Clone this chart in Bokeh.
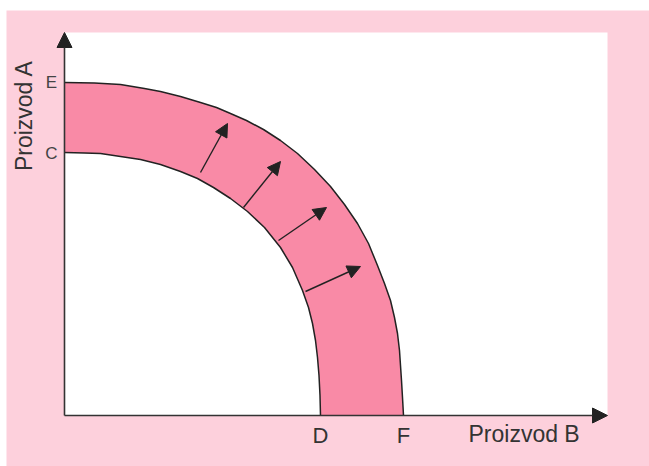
import math
from bokeh.plotting import figure
from bokeh.models import Arrow, NormalHead, Label, ColumnDataSource, Range1d
from bokeh.embed import file_html
from bokeh.resources import INLINE

# --- data (frame units) ---
outer_x = [0, 30, 56, 80, 96, 116, 136, 152, 166, 182, 199, 216, 233, 250, 266, 280, 293,
           304, 313, 320, 326, 330, 333, 335, 336, 337, 338, 339]
outer_y = [333, 332.5, 331, 327, 324, 319, 313, 308, 302, 295, 286, 275, 262, 246, 229, 211, 192,
           172, 150, 132, 115, 98, 82, 65, 50, 35, 18, 0]
inner_x = [0, 20, 36, 56, 76, 96, 116, 133, 149, 166, 183, 200, 216, 228, 238, 244, 248,
           251, 253, 254.5, 255.5, 256]
inner_y = [263, 262.5, 262, 259, 256, 251, 244, 237, 228, 217, 204, 188, 168, 148, 125, 108, 92,
           75, 58, 40, 20, 0]

shift_x0 = [136, 179, 214, 241]
shift_y0 = [243, 208, 175, 124]
shift_x1 = [163, 216, 262, 296]
shift_y1 = [292, 254, 208, 149]

y_tick_vals = [262, 333]
y_tick_text = ["C", "E"]
x_tick_vals = [256, 339]
x_tick_text = ["D", "F"]
x_title = "Proizvod B"
y_title = "Proizvod A"

X_MAX, Y_MAX = 543, 383          # extent of the white plotting area
PAD_L, PAD_R, PAD_T, PAD_B = 64, 42, 32, 51

PINK_BG = "#fdd0dc"
BAND = "#f98aa6"
INK = "#222222"
FONT = "Liberation Sans"

W = PAD_L + X_MAX + PAD_R
H = PAD_B + Y_MAX + PAD_T
p = figure(width=W, height=H, output_backend="svg", toolbar_location=None,
           x_range=Range1d(-PAD_L, X_MAX + PAD_R), y_range=Range1d(-PAD_B, Y_MAX + PAD_T),
           min_border=0, min_border_left=0, min_border_right=0, min_border_top=0, min_border_bottom=0)
p.xaxis.visible = False
p.yaxis.visible = False
p.xgrid.visible = False
p.ygrid.visible = False
p.outline_line_color = None
p.background_fill_color = "white"
p.border_fill_color = "white"

# pink card and white plotting area
p.quad(left=[-PAD_L + 6], right=[X_MAX + PAD_R], bottom=[-PAD_B], top=[Y_MAX + PAD_T - 10],
       fill_color=PINK_BG, line_color=None)
p.quad(left=[0], right=[X_MAX], bottom=[0], top=[Y_MAX], fill_color="white", line_color=None)

# band between curves
band_x = outer_x + inner_x[::-1]
band_y = outer_y + inner_y[::-1]
p.patch(band_x, band_y, fill_color=BAND, line_color=None)
p.line(outer_x, outer_y, line_color=INK, line_width=1.5, line_join="round")
p.line(inner_x, inner_y, line_color=INK, line_width=1.5, line_join="round")

# shift arrows
src = ColumnDataSource(dict(x0=shift_x0, y0=shift_y0, x1=shift_x1, y1=shift_y1))
p.add_layout(Arrow(end=NormalHead(size=13, fill_color=INK, line_color=INK, line_width=1),
                   x_start="x0", y_start="y0", x_end="x1", y_end="y1", source=src,
                   line_color=INK, line_width=1.4))

# axes as arrows
p.add_layout(Arrow(end=NormalHead(size=15, fill_color=INK, line_color=INK, line_width=1),
                   x_start=0, y_start=0, x_end=X_MAX, y_end=0, line_color="#333333", line_width=1.6))
p.add_layout(Arrow(end=NormalHead(size=15, fill_color=INK, line_color=INK, line_width=1),
                   x_start=0, y_start=0, x_end=0, y_end=Y_MAX, line_color="#333333", line_width=1.6))

# tick labels
for v, t in zip(y_tick_vals, y_tick_text):
    p.add_layout(Label(x=0, y=v, x_offset=-13, text=t, text_align="center", text_baseline="middle",
                       text_font=FONT, text_font_size="17px", text_color="#444444"))
for v, t in zip(x_tick_vals, x_tick_text):
    p.add_layout(Label(x=v, y=0, y_offset=-20, text=t, text_align="center", text_baseline="middle",
                       text_font=FONT, text_font_size="22px", text_color="#333333"))

p.add_layout(Label(x=X_MAX, y=0, x_offset=-139, y_offset=-18, text=x_title, text_align="left",
                   text_baseline="middle", text_font=FONT, text_font_size="23px", text_color="#333333"))
p.add_layout(Label(x=0, y=300, x_offset=-41, text=y_title, angle=math.pi / 2, text_align="center",
                   text_baseline="middle", text_font=FONT, text_font_size="23px", text_color="#333333"))

open("out.html", "w").write(file_html(p, INLINE))
